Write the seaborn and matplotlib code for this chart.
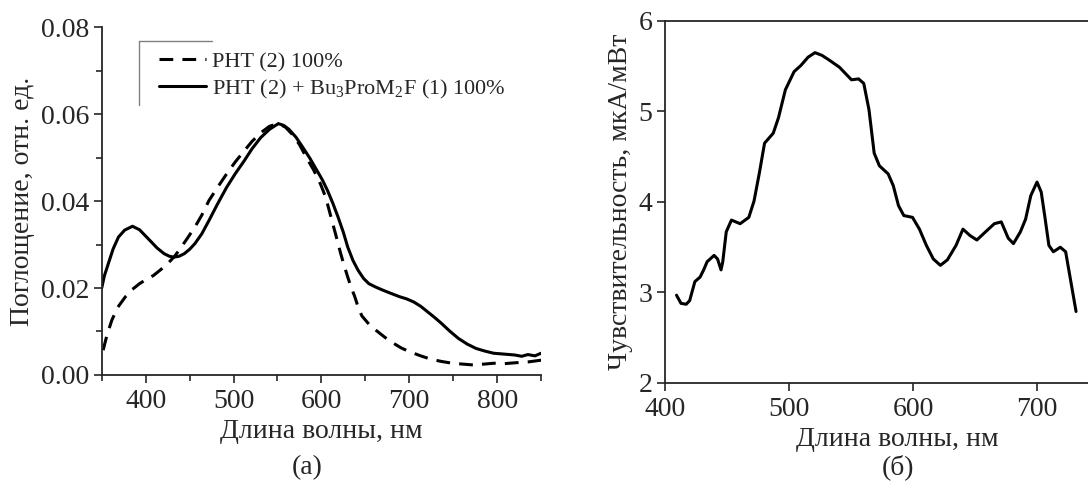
import numpy as np
import pandas as pd
import seaborn as sns
import matplotlib.pyplot as plt
from matplotlib.ticker import MultipleLocator, FormatStrFormatter
from matplotlib.lines import Line2D

# (a) absorption spectra
wl_pht = [351.6, 356, 361.5, 368, 377, 385, 393, 401, 409, 417, 425, 433, 440.5, 448, 456, 464,
          472, 482, 492, 502, 512, 521, 531, 541, 551, 559, 567, 575, 583, 591, 599, 605, 610,
          616, 622, 626, 630, 634, 638, 642, 646, 654, 662, 672, 682, 691, 701, 713, 725, 737,
          749, 761, 773, 785, 796, 808, 820, 835, 850]
abs_pht = [0.0057, 0.0092, 0.0126, 0.0155, 0.018, 0.0197, 0.021, 0.022, 0.0229, 0.0242, 0.0256,
           0.0273, 0.0294, 0.0316, 0.034, 0.0368, 0.0401, 0.0432, 0.0462, 0.049, 0.0515, 0.0537,
           0.0557, 0.0572, 0.0578, 0.0570, 0.0553, 0.0530, 0.050, 0.0472, 0.0439, 0.0408, 0.037,
           0.0325, 0.0279, 0.0251, 0.0225, 0.0201, 0.018, 0.0155, 0.0136, 0.0117, 0.0103,
           0.0087, 0.0073, 0.0062, 0.0053, 0.0044, 0.0036, 0.0031, 0.0027, 0.0025, 0.0023,
           0.0025, 0.0027, 0.0026, 0.0028, 0.0030, 0.0034]

wl_mix = [350, 353, 357.5, 363, 369, 376, 385, 393, 405, 413, 421, 427, 432, 438, 444, 450, 456,
          464, 472, 482, 492, 502, 512, 521, 531, 541, 551, 557, 563, 571, 579, 587, 595, 601,
          607, 613, 619, 625, 630, 636, 642, 648, 654, 662, 670, 680, 689, 697, 705, 713, 721,
          729, 737, 746, 756, 766, 776, 786, 796, 808, 820, 828, 835, 843, 850]
abs_mix = [0.020, 0.0228, 0.0256, 0.0290, 0.0317, 0.0333, 0.0342, 0.0334, 0.0309, 0.0292,
           0.0279, 0.0273, 0.0271, 0.0273, 0.0279, 0.0289, 0.0302, 0.0325, 0.0355, 0.0394,
           0.0431, 0.0463, 0.0492, 0.0520, 0.0546, 0.0565, 0.0578, 0.0574, 0.0565, 0.0547,
           0.0523, 0.0498, 0.047, 0.0449, 0.0424, 0.0395, 0.0363, 0.0328, 0.0294, 0.0263,
           0.024, 0.0222, 0.021, 0.0202, 0.0195, 0.0187, 0.018, 0.0175, 0.0168, 0.0158, 0.0145,
           0.0132, 0.0118, 0.0101, 0.0084, 0.0071, 0.0061, 0.0055, 0.0050, 0.0048, 0.0046,
           0.0043, 0.0047, 0.0044, 0.0050]

# (б) photosensitivity spectrum
wl_sens = [409.3, 412.9, 417.1, 419.9, 424.1, 428.3, 431.2, 434, 439.6, 442.4, 445.2, 446.6,
           449.4, 453.6, 460.6, 467.6, 471.8, 476.1, 480.3, 487.3, 491.5, 497.1, 504.1, 509.7,
           515.4, 521, 526.6, 532.2, 540.6, 550.4, 556.1, 560.3, 564.5, 568.7, 572.9, 580,
           584.1, 588.3, 592.6, 599.6, 605.2, 610.8, 616.4, 622.1, 627.7, 634.7, 640.3, 645.9,
           651.5, 658.5, 665.6, 671.2, 676.8, 681, 686.6, 690.8, 695, 700, 703.4, 706.2, 709.6,
           713.2, 718.8, 723.1, 725.9, 731.5]
sens = [2.97, 2.88, 2.87, 2.91, 3.12, 3.17, 3.25, 3.34, 3.41, 3.37, 3.25, 3.34,
        3.67, 3.80, 3.76, 3.83, 4.01, 4.32, 4.65, 4.76, 4.93, 5.24, 5.44, 5.51,
        5.60, 5.65, 5.62, 5.57, 5.49, 5.35, 5.36, 5.31, 5.02, 4.54, 4.40, 4.31,
        4.18, 3.96, 3.85, 3.83, 3.70, 3.52, 3.37, 3.30, 3.36, 3.52, 3.70, 3.63,
        3.58, 3.67, 3.76, 3.78, 3.60, 3.54, 3.67, 3.81, 4.07, 4.22, 4.11, 3.85, 3.52,
        3.45, 3.50, 3.45, 3.23, 2.79]

lbl_pht = "PHT (2) 100%"
lbl_mix = r"PHT (2) + Bu$_\mathregular{3}$ProM$_\mathregular{2}$F (1) 100%"

sns.set_style("ticks")
plt.rcParams["font.family"] = ["Liberation Serif", "DejaVu Serif"]
plt.rcParams["mathtext.fontset"] = "custom"
plt.rcParams["mathtext.rm"] = "Liberation Serif"
plt.rcParams["xtick.direction"] = "out"
plt.rcParams["ytick.direction"] = "out"

fig = plt.figure(figsize=(10.88, 4.97), dpi=100)
ax1 = fig.add_axes([0.0935, 0.2455, 0.4038, 0.700])
ax2 = fig.add_axes([0.6112, 0.2294, 0.4274, 0.7284])

sns.lineplot(x=wl_pht, y=abs_pht, ax=ax1, color="black", lw=2.2, dashes=False,
             linestyle=(0, (4.5, 3)), label=lbl_pht, estimator=None)
sns.lineplot(x=wl_mix, y=abs_mix, ax=ax1, color="black", lw=2.2, label=lbl_mix, estimator=None)

ax1.set_xlim(350, 850)
ax1.set_ylim(0, 0.08)
ax1.xaxis.set_major_locator(MultipleLocator(100))
ax1.xaxis.set_minor_locator(MultipleLocator(50))
ax1.yaxis.set_major_locator(MultipleLocator(0.02))
ax1.yaxis.set_minor_locator(MultipleLocator(0.01))
ax1.yaxis.set_major_formatter(FormatStrFormatter("%.2f"))
sns.despine(ax=ax1)
ax1.set_xlabel("Длина волны, нм", fontsize=20, labelpad=4)
ax1.set_ylabel("Поглощение, отн. ед.", fontsize=20, labelpad=4)

leg = ax1.legend(loc="upper left", bbox_to_anchor=(0.11, 0.955), frameon=False, fontsize=16,
                 handlelength=2.1, handletextpad=0.3, borderaxespad=0, labelspacing=0.25)
# partial legend frame as in the original
ax1.add_line(Line2D([0.085, 0.085], [0.775, 0.96], transform=ax1.transAxes, color="gray", lw=1))
ax1.add_line(Line2D([0.085, 0.25], [0.96, 0.96], transform=ax1.transAxes, color="gray", lw=1))

sns.lineplot(x=wl_sens, y=sens, ax=ax2, color="black", lw=2.2, estimator=None)
ax2.set_xlim(400, 775)
ax2.set_ylim(2, 6)
ax2.xaxis.set_major_locator(MultipleLocator(100))
ax2.yaxis.set_major_locator(MultipleLocator(1))
ax2.spines["right"].set_visible(False)
ax2.set_xlabel("Длина волны, нм", fontsize=20, labelpad=4)
ax2.set_ylabel("Чувствительность, мкА/мВт", fontsize=20, labelpad=4)

for ax in (ax1, ax2):
    ax.tick_params(which="major", length=6, width=1.2, labelsize=20)
    ax.tick_params(which="minor", length=4, width=1.2)
    ax.tick_params(axis="x", pad=4)
    ax.tick_params(axis="y", pad=3)
    for s in ax.spines.values():
        s.set_linewidth(1.3)

fig.text(307 / 1088, 1 - 468 / 497, "(a)", ha="center", va="center", fontsize=20)
fig.text(898 / 1088, 1 - 467 / 497, "(б)", ha="center", va="center", fontsize=20)

fig.savefig("out.png", dpi=100)
